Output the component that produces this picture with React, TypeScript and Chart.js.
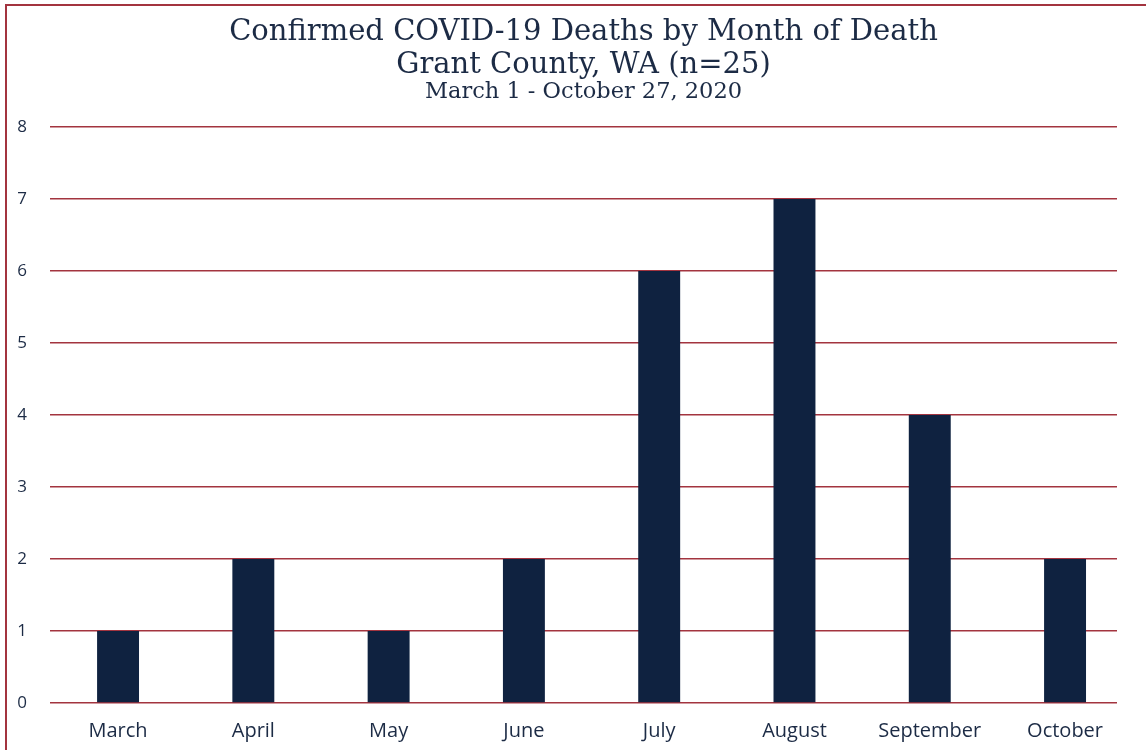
import React, { useEffect, useRef } from "react";
import { Chart, registerables } from "chart.js";

Chart.register(...registerables);

const months = ["March", "April", "May", "June", "July", "August", "September", "October"];
const deaths = [1, 2, 1, 2, 6, 7, 4, 2];
const titleLines = ["Confirmed COVID-19 Deaths by Month of Death", "Grant County, WA (n=25)"];
const subtitleText = "March 1 - October 27, 2020";

const NAVY = "#0f2240";
const RED = "#a3343f";
const TEXT = "#1c2b45";

export default function App() {
  const ref = useRef<HTMLCanvasElement | null>(null);
  useEffect(() => {
    if (!ref.current) return;
    const points = months.map((_, i) => ({ x: i, y: deaths[i] }));
    const chart = new Chart(ref.current, {
      type: "bar",
      data: {
        datasets: [
          {
            data: points,
            backgroundColor: NAVY,
            borderWidth: 0,
            barPercentage: 0.31,
            categoryPercentage: 1,
          },
        ],
      },
      options: {
        animation: false,
        responsive: false,
        layout: { padding: { left: 0, right: 29, top: 0, bottom: 0 } },
        plugins: {
          legend: { display: false },
          tooltip: { enabled: false },
          title: {
            display: true,
            fullSize: false,
            text: titleLines,
            color: TEXT,
            font: { family: "'DejaVu Serif', serif", size: 29, weight: "normal", lineHeight: 1.14 },
            padding: { top: 15.5, bottom: 0 },
          },
          subtitle: {
            display: true,
            fullSize: false,
            text: subtitleText,
            color: TEXT,
            font: { family: "'DejaVu Serif', serif", size: 22.5, weight: "normal", lineHeight: 0.93 },
            padding: { top: 0, bottom: 24.5 },
          },
        },
        scales: {
          x: {
            type: "linear",
            offset: false,
            min: -0.503,
            max: 7.384,
            grid: { display: false, drawTicks: false },
            border: { display: false },
            ticks: {
              stepSize: 1,
              includeBounds: false,
              autoSkip: false,
              maxRotation: 0,
              color: TEXT,
              padding: 16,
              font: { family: "'Open Sans', sans-serif", size: 20 },
              callback: (v: any) => (Number.isInteger(v) && months[v] !== undefined ? months[v] : ""),
            },
            afterFit: (s: any) => {
              s.height = 47;
            },
          },
          y: {
            min: 0,
            max: 8,
            ticks: {
              stepSize: 1,
              color: TEXT,
              padding: 23,
              font: { family: "'Open Sans', sans-serif", size: 17 },
            },
            grid: { color: RED, lineWidth: 1.6, drawTicks: false },
            border: { display: false },
            afterFit: (s: any) => {
              s.width = 50;
            },
          },
        },
      },
    });
    return () => chart.destroy();
  }, []);
  return (
    <div style={{ position: "fixed", left: 0, top: 0, width: 1146, height: 750, background: "#fff", overflow: "hidden" }}>
      <div
        style={{
          position: "absolute",
          left: 5,
          top: 4,
          width: 1200,
          height: 800,
          borderLeft: `2px solid ${RED}`,
          borderTop: `2px solid ${RED}`,
          boxSizing: "border-box",
        }}
      />
      <canvas ref={ref} width={1146} height={750} style={{ position: "absolute", left: 0, top: 0 }} />
    </div>
  );
}
